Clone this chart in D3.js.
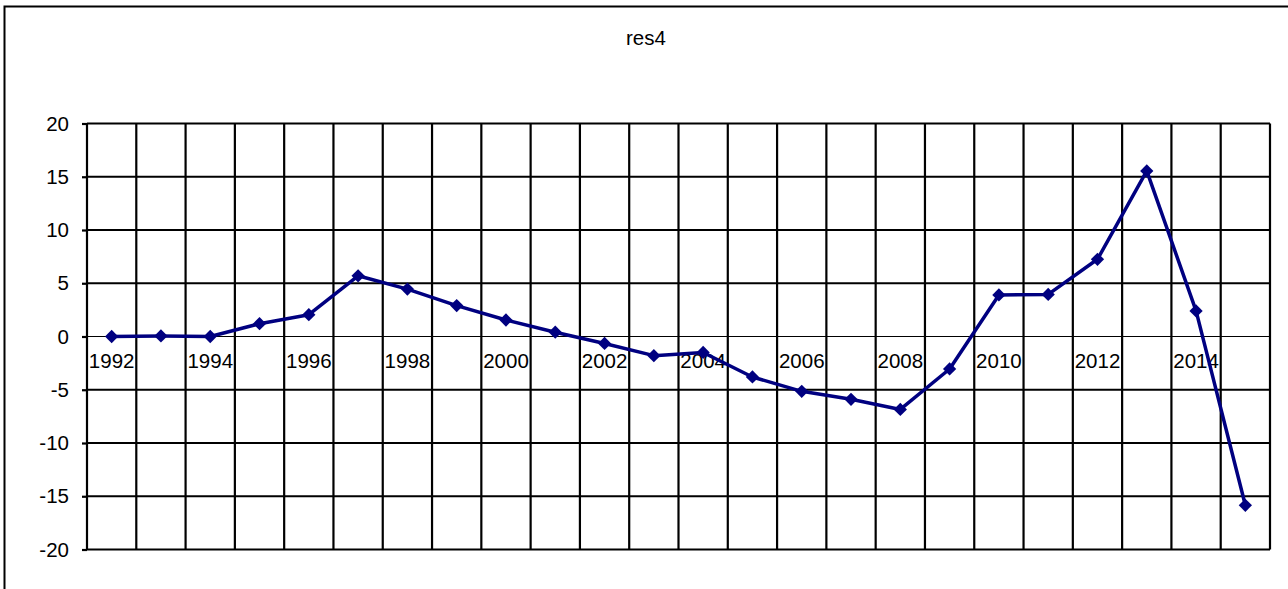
<!DOCTYPE html>
<html>
<head>
<meta charset="utf-8">
<script src="https://cdn.jsdelivr.net/npm/d3@7"></script>
<style>
  body { margin: 0; background: #fff; }
  svg { display: block; font-family: Arial, "Liberation Sans", sans-serif; }
</style>
</head>
<body>
<div id="chart"></div>
<script>
var years = [1992, 1993, 1994, 1995, 1996, 1997, 1998, 1999, 2000, 2001, 2002, 2003,
             2004, 2005, 2006, 2007, 2008, 2009, 2010, 2011, 2012, 2013, 2014, 2015];
var res4 = [0, 0.05, 0, 1.2, 2.05, 5.7, 4.45, 2.9, 1.55, 0.4, -0.65, -1.8,
            -1.5, -3.8, -5.15, -5.9, -6.85, -3.05, 3.9, 3.95, 7.25, 15.55, 2.4, -15.85];
var yTicks = [-20, -15, -10, -5, 0, 5, 10, 15, 20];
var xLabels = [1992, 1994, 1996, 1998, 2000, 2002, 2004, 2006, 2008, 2010, 2012, 2014];
var title = "res4";

var width = 1288, height = 589;
var fontStack = "Arial, 'Liberation Sans', sans-serif";

var svg = d3.select("#chart").append("svg")
    .attr("width", width)
    .attr("height", height);

// outer frame (runs off the right and bottom edges)
svg.append("rect")
    .attr("x", 4.5).attr("y", 6.5)
    .attr("width", 1300).attr("height", 600)
    .attr("fill", "none")
    .attr("stroke", "#000")
    .attr("stroke-width", 2);

svg.append("text")
    .attr("x", 646).attr("y", 45)
    .attr("text-anchor", "middle")
    .style("font-size", "20.5px")
    .text(title);

var xScale = d3.scaleBand()
    .domain(years)
    .range([87, 1270])
    .padding(0);

var yScale = d3.scaleLinear()
    .domain([-20, 20])
    .range([549.5, 123.5]);

// horizontal grid (0 handled by the category axis)
svg.append("g").selectAll("line")
    .data(yTicks.filter(function(d) { return d !== 0; }))
    .enter().append("line")
    .attr("x1", 87).attr("x2", 1270)
    .attr("y1", function(d) { return yScale(d); })
    .attr("y2", function(d) { return yScale(d); })
    .attr("stroke", "#000")
    .attr("stroke-width", 2.2);

// vertical grid at category edges
var edges = years.map(function(d) { return xScale(d); }).concat([1270]);
svg.append("g").selectAll("line")
    .data(edges)
    .enter().append("line")
    .attr("x1", function(d) { return d; })
    .attr("x2", function(d) { return d; })
    .attr("y1", yScale(20)).attr("y2", yScale(-20))
    .attr("stroke", "#000")
    .attr("stroke-width", 2.2);

// y axis
var yAxis = svg.append("g")
    .attr("transform", "translate(87,0)")
    .call(d3.axisLeft(yScale).tickValues(yTicks).tickSize(5).tickPadding(13)
        .tickFormat(function(d) { return String(d); }));
yAxis.select(".domain").remove();
yAxis.selectAll("line").attr("stroke", "#000").attr("stroke-width", 2.2);
yAxis.selectAll("text")
    .attr("fill", "#000")
    .style("font-size", "20.5px")
    .style("font-family", fontStack);

// category axis on zero
var xAxis = svg.append("g")
    .attr("transform", "translate(0," + yScale(0) + ")")
    .call(d3.axisBottom(xScale).tickValues(xLabels).tickSize(0).tickPadding(17));
xAxis.select(".domain").attr("stroke", "#000").attr("stroke-width", 1)
    .attr("d", "M87,0H1270");
xAxis.selectAll("text")
    .attr("fill", "#000")
    .style("font-size", "20.5px")
    .style("font-family", fontStack);

var pts = years.map(function(d, i) { return [xScale(d) + xScale.bandwidth() / 2, yScale(res4[i])]; });

svg.append("path")
    .attr("d", d3.line()(pts))
    .attr("fill", "none")
    .attr("stroke", "#000080")
    .attr("stroke-width", 3.5)
    .attr("stroke-linejoin", "round");

svg.append("g").selectAll("path")
    .data(pts)
    .enter().append("path")
    .attr("d", d3.symbol().type(d3.symbolSquare).size(88))
    .attr("transform", function(d) { return "translate(" + d[0] + "," + d[1] + ") rotate(45)"; })
    .attr("fill", "#000080");
</script>
</body>
</html>
